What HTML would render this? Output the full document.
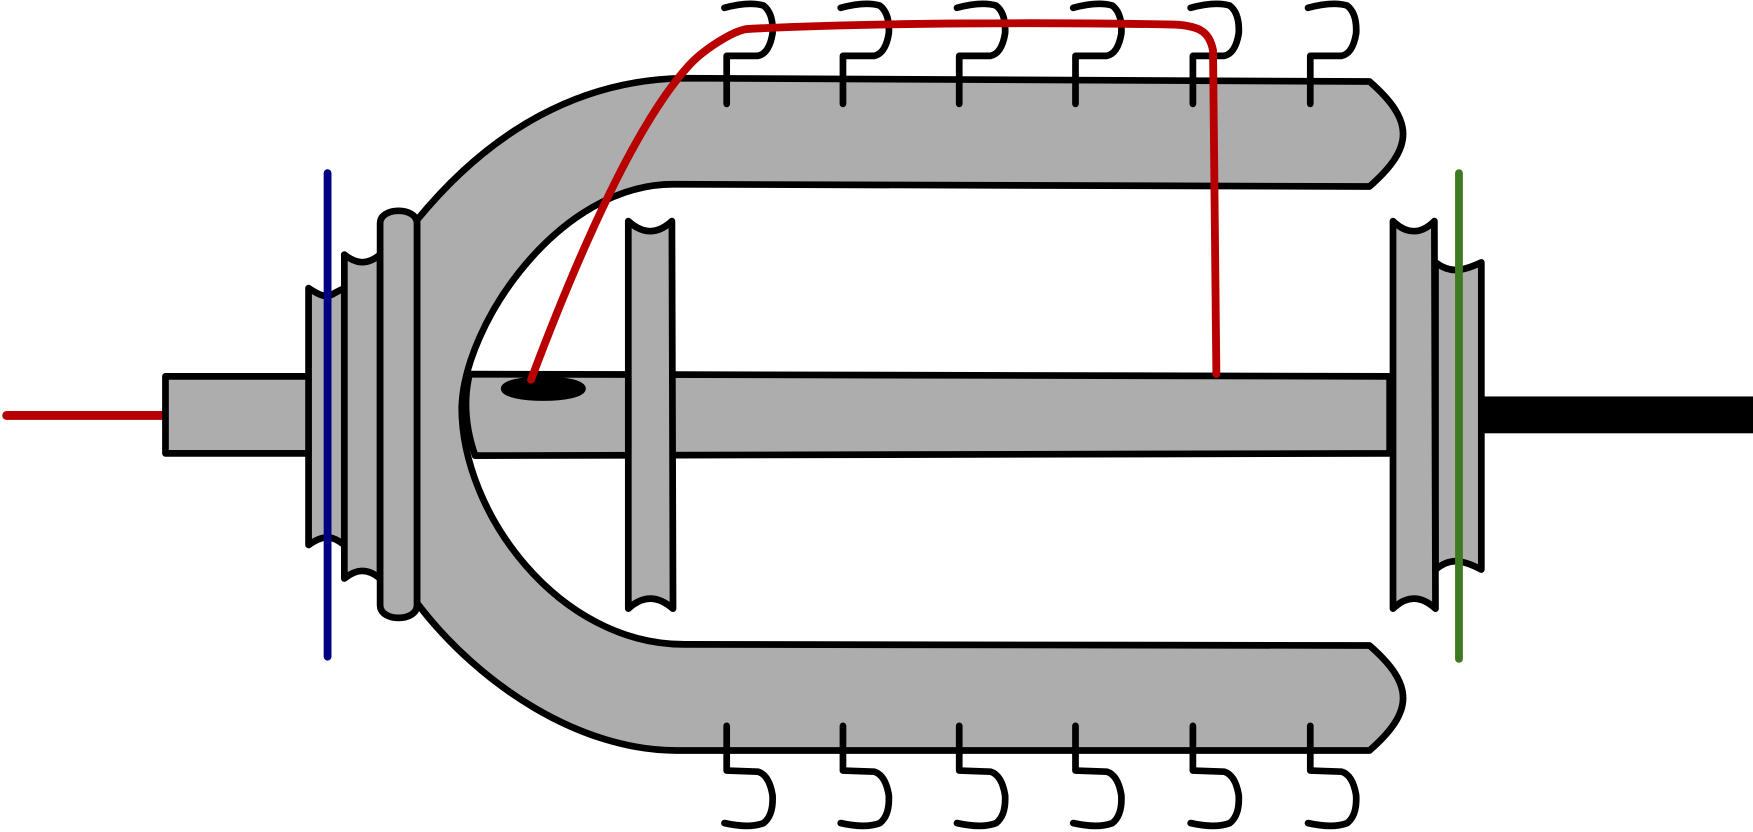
<!DOCTYPE html>
<html><head><style>html,body{margin:0;padding:0;background:#fff;overflow:hidden}svg{display:block}</style></head>
<body>
<svg width="1753" height="832" viewBox="0 0 1568 745" preserveAspectRatio="none" xmlns="http://www.w3.org/2000/svg">
<g stroke="#000" stroke-width="6" stroke-linejoin="round" stroke-linecap="round" fill="#adadad">
<line x1="6" y1="372" x2="148" y2="372" stroke="#b80000" stroke-width="8"/>
<rect x="148" y="337" width="130" height="69"/>
<rect x="1325" y="355" width="245" height="33" fill="#000" stroke="none"/>
<!-- U shape -->
<path d="M373,197 C440,115 520,72 610,70 L1225,73 C1265,108 1265,132 1225,167 L602,165 C500,165 415,290 413,365 C413,460 500,577 612,577 L1225,578 C1265,613 1265,637 1225,672 L605,672 C520,672 430,615 373,540 Z"/>
<!-- center shaft -->
<path d="M420,335 L1243,337 L1243,406 L425,408 C417,385 414,360 420,335 Z"/>
<!-- left flanges -->
<path d="M276,258 C285,264 292,268 300,262 L308,258 L308,488 C298,480 290,478 276,488 Z"/>
<path d="M308,228 C318,236 328,238 340,228 L340,518 C328,508 318,510 308,518 Z"/>
<path d="M340,200 C340,185 373,185 373,200 L373,542 C373,557 340,557 340,542 Z"/>
<!-- middle flange -->
<path d="M562,198 C575,210 588,210 601,198 L602,545 C588,533 575,533 562,545 Z"/>
<!-- right flanges -->
<path d="M1284,235 C1296,244 1306,244 1325,235 L1325,510 C1306,500 1296,500 1284,510 Z"/>
<path d="M1246,198 C1258,210 1271,210 1283,198 L1284,545 C1271,533 1258,533 1246,545 Z"/>
<ellipse cx="486" cy="348" rx="35" ry="8" fill="#000"/>
<line x1="1305" y1="155" x2="1305" y2="590" stroke="#3f7a22" stroke-width="7"/>
<line x1="293" y1="155" x2="293" y2="588" stroke="#000080" stroke-width="7"/>
<g fill="none">
<path id="ct" d="M650,93 L650,50 L678,50 Q688,48 691,30 Q692,12 683,5 Q670,1 648,7"/>
<use href="#ct" x="104"/><use href="#ct" x="208"/><use href="#ct" x="312"/><use href="#ct" x="417"/><use href="#ct" x="522"/>
<path id="cb" d="M650,650 L650,690 L678,691 Q688,694 691,712 Q692,730 683,737 Q670,742 648,737"/>
<use href="#cb" x="104"/><use href="#cb" x="208"/><use href="#cb" x="312"/><use href="#cb" x="417"/><use href="#cb" x="522"/>
<path d="M475,340 C520,220 570,110 615,60 C628,45 655,28 668,26 C780,20 950,20 1050,22 C1075,23 1082,30 1085,45 L1088,335" stroke="#b80000" stroke-width="7"/>
</g>
</g>
</svg>
</body></html>
